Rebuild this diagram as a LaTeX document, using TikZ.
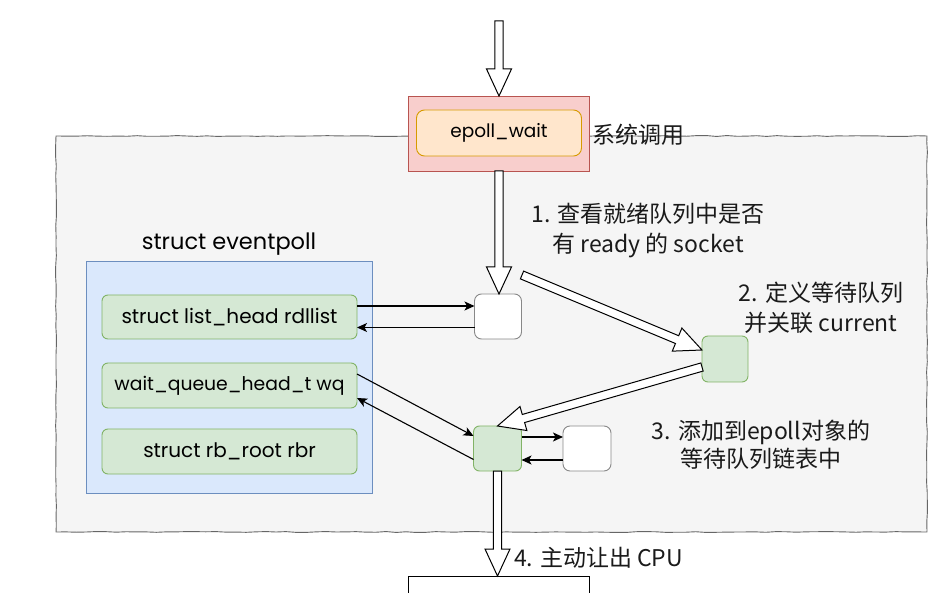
\documentclass[tikz,border=0pt]{standalone}
\usepackage{fontspec}
\setmainfont{Noto Sans CJK SC}
\newfontfamily\boxfont{Poppins}
\usetikzlibrary{calc,arrows.meta,decorations.pathmorphing}
\definecolor{grayF}{HTML}{F5F5F5}
\definecolor{grayS}{HTML}{666666}
\definecolor{blueF}{HTML}{DAE8FC}
\definecolor{blueS}{HTML}{6C8EBF}
\definecolor{greenF}{HTML}{D5E8D4}
\definecolor{greenS}{HTML}{82B366}
\definecolor{redF}{HTML}{F8CECC}
\definecolor{redS}{HTML}{B85450}
\definecolor{orangeF}{HTML}{FFE6CC}
\definecolor{orangeS}{HTML}{D79B00}
\definecolor{wbS}{HTML}{888888}
\definecolor{txt}{HTML}{1A1A1A}
\newcommand\hollowarrow[2]{%
  \coordinate (ha) at (#1);
  \coordinate (hb) at (#2);
  \coordinate (hh) at ($(hb)!27pt!(ha)$);
  \draw[hollow] ($(ha)!4.2pt!90:(hb)$) -- ($(hh)!4.2pt!90:(hb)$) -- ($(hh)!12.5pt!90:(hb)$)
     -- (hb) -- ($(hh)!12.5pt!-90:(hb)$) -- ($(hh)!4.2pt!-90:(hb)$) -- ($(ha)!4.2pt!-90:(hb)$) -- cycle;
}
\begin{document}
\begin{tikzpicture}[x=1pt,y=-1pt,
  every node/.style={inner sep=0pt, outer sep=0pt},
  graybox/.style={draw=grayS, fill=grayF, line width=0.9pt, decorate,
     decoration={random steps, segment length=10pt, amplitude=0.45pt}},
  bluebox/.style={draw=blueS, fill=blueF, line width=0.9pt},
  greenbox/.style={draw=greenS, fill=greenF, line width=0.9pt, rounded corners=6pt},
  whitebox/.style={draw=wbS, fill=white, line width=0.9pt, rounded corners=7pt},
  redbox/.style={draw=redS, fill=redF, line width=0.9pt},
  orangebox/.style={draw=orangeS, fill=orangeF, line width=0.9pt, rounded corners=8pt},
  codetext/.style={font=\boxfont\fontsize{20}{24}\selectfont, text=black},
  lbl/.style={font=\fontsize{23}{30}\selectfont, text=txt, align=center},
  hollow/.style={draw=black, fill=white, line width=1pt, line join=miter},
  lnk/.style={draw=black, line width=1.1pt, -{Stealth[length=10pt,width=9pt,inset=2.5pt]}}
]
\useasboundingbox (0,0) rectangle (940,593);
\clip (0,0) rectangle (940,593);
\pgfmathsetseed{7}

% outer gray kernel area
\node[graybox, minimum width=871pt, minimum height=396pt] (kernel) at (491.5,334) {};

% epoll_wait
\node[redbox, minimum width=181pt, minimum height=75pt] (epoll) at (499,133.5) {};
\node[orangebox, minimum width=165pt, minimum height=46pt, codetext, font=\boxfont\fontsize{18.5}{22}\selectfont] (epollin) at (499,133) {epoll\_wait};
\node[lbl, anchor=west] (syscall) at (592,135) {系统调用};

% struct eventpoll
\node[font=\boxfont\fontsize{22.5}{26}\selectfont] (eptitle) at (229,244) {struct eventpoll};
\node[bluebox, minimum width=286pt, minimum height=232pt] (ep) at (229,377) {};
\node[greenbox, minimum width=255pt, minimum height=44pt, codetext] (rdl) at (229.5,317) {struct list\_head rdllist};
\node[greenbox, minimum width=255pt, minimum height=45pt, codetext, font=\boxfont\fontsize{18.8}{22}\selectfont] (wq) at (229.5,385.5) {wait\_queue\_head\_t wq};
\node[greenbox, minimum width=255pt, minimum height=45pt, codetext] (rbr) at (229.5,451.5) {struct rb\_root rbr};

% small boxes
\node[whitebox, minimum width=47pt, minimum height=45pt] (box1) at (498,316.5) {};
\node[greenbox, minimum width=46pt, minimum height=46pt] (g2) at (725,359) {};
\node[greenbox, minimum width=48pt, minimum height=45pt] (g3) at (497.5,448.5) {};
\node[whitebox, minimum width=48pt, minimum height=45pt] (box4) at (587,448.5) {};

% bottom box (clipped)
\node[draw=black, fill=white, line width=0.9pt, minimum width=181pt, minimum height=60pt] (cpu) at (498.5,606) {};

% labels
\node[lbl] (l1) at (648,231) {1. 查看就绪队列中是否\\有 ready 的 socket};
\node[lbl] (l2) at (821,307.5) {2. 定义等待队列\\并关联 current};
\node[lbl, font=\fontsize{23}{28}\selectfont] (l3) at (761,445) {3. 添加到epoll对象的\\等待队列链表中};
\node[lbl, anchor=west] (l4) at (514,558) {4. 主动让出 CPU};

% thin arrows
\draw[lnk] ([yshift=11pt]rdl.east) -- ([yshift=11pt]rdl.east -| box1.west);
\draw[lnk] ([yshift=-11pt]box1.west) -- ([yshift=-11pt]box1.west -| rdl.east);
\draw[lnk] ([yshift=11.5pt]wq.east) -- ([yshift=12.5pt]g3.west);
\draw[lnk] ([yshift=-11pt]g3.west) -- ([yshift=-12.5pt]wq.east);
\draw[lnk] ([yshift=11.5pt]g3.east) -- ([yshift=11.5pt]g3.east -| box4.west);
\draw[lnk] ([yshift=-11.5pt]box4.west) -- ([yshift=-11.5pt]box4.west -| g3.east);

% hollow arrows
\coordinate (topin) at (499,21);
\hollowarrow{topin}{epoll.north}
\hollowarrow{epoll.south}{epoll.south |- box1.north}
\coordinate (a2s) at (522,275);
\hollowarrow{a2s}{[yshift=9pt]g2.west}
\hollowarrow{[yshift=-8pt]g2.west}{g3.north}
\hollowarrow{g3.south}{g3.south |- cpu.north}
\end{tikzpicture}
\end{document}
